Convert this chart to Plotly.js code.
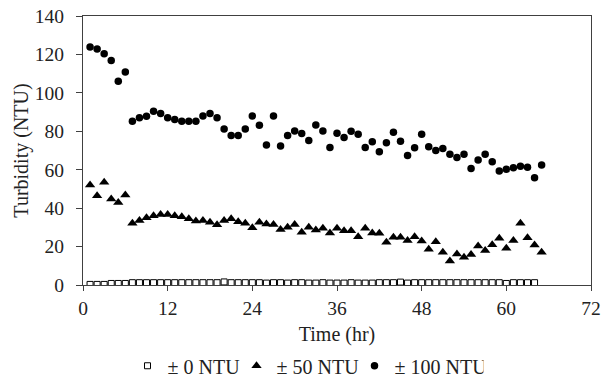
<!DOCTYPE html>
<html><head><meta charset="utf-8">
<script src="https://cdn.plot.ly/plotly-3.0.1.min.js"></script>
<style>html,body{margin:0;padding:0;background:#fff}#c{width:611px;height:381px}</style>
</head><body><div id="c"></div>
<script>
const hours = [1,2,3,4,5,6,7,8,9,10,11,12,13,14,15,16,17,18,19,20,21,22,23,24,25,26,27,28,29,30,31,32,33,34,35,36,37,38,39,40,41,42,43,44,45,46,47,48,49,50,51,52,53,54,55,56,57,58,59,60,61,62,63,64,65];
const hours0 = [1,2,3,4,5,6,7,8,9,10,11,12,13,14,15,16,17,18,19,20,21,22,23,24,25,26,27,28,29,30,31,32,33,34,35,36,37,38,39,40,41,42,43,44,45,46,47,48,49,50,51,52,53,54,55,56,57,58,59,60,61,62,63,64];
const ntu0 = [0.3,0.3,0.3,0.8,0.8,0.8,1.2,1.2,1.2,1.2,1.2,1.2,1.2,1.2,1.2,1.2,1.2,1.2,1.2,1.6,1.2,1.2,1.2,1.2,1.2,1.0,1.2,1.2,1.0,1.2,1.2,1.0,1.0,1.2,1.0,1.0,1.0,1.2,1.0,1.0,1.0,1.2,1.2,1.2,1.5,1.0,1.2,1.2,1.2,1.2,1.2,1.2,1.2,1.2,1.2,1.2,1.2,1.2,1.2,0.8,1.2,1.2,1.2,1.2];
const ntu50 = [52.0,46.4,53.5,44.7,43.0,46.9,32.2,33.6,35.0,36.0,36.7,36.7,36.0,35.5,34.5,33.3,33.6,32.7,31.3,33.6,34.5,32.9,32.2,29.8,32.7,31.7,31.5,28.9,30.1,31.5,27.4,30.1,28.6,29.5,27.0,29.5,28.2,28.2,25.1,29.5,27.0,26.9,22.2,24.8,24.8,23.2,25.1,22.9,18.6,22.5,17.0,12.5,16.1,14.4,15.9,20.3,18.0,20.9,24.3,19.1,23.2,32.2,24.6,20.8,17.0];
const ntu100 = [123.9,122.8,120.4,116.9,106.0,110.9,85.2,87.0,87.8,90.4,89.2,87.0,86.1,85.2,85.2,85.2,88.0,89.2,87.0,81.2,77.8,77.8,81.2,88.0,83.2,72.9,88.0,72.4,77.8,80.2,78.8,75.2,83.3,80.2,71.6,79.0,76.8,80.0,78.5,71.6,74.5,69.3,74.0,79.5,74.8,67.4,71.4,78.5,71.9,70.0,71.0,68.1,66.4,68.1,60.6,65.1,68.1,64.1,59.3,60.3,61.0,61.8,61.3,55.8,62.5];
const seriesNames = ['\u00b1 0 NTU','\u00b1 50 NTU','\u00b1 100 NTU'];
const xTicks = [0,12,24,36,48,60,72];
const yTicks = [0,20,40,60,80,100,120,140];

const fam = 'Liberation Serif, Times New Roman, DejaVu Serif, serif';
const tickFont = {family:fam, color:'#222', size:19.5};
const titleFont = {family:fam, color:'#222', size:20};
const data = [
  {x:hours0, y:ntu0, name:seriesNames[0], type:'scatter', mode:'markers', legendwidth:64,
   marker:{symbol:'square-open', size:6, color:'#000', line:{width:1, color:'#000'}}},
  {x:hours, y:ntu50, name:seriesNames[1], type:'scatter', mode:'markers', legendwidth:73,
   marker:{symbol:'triangle-up', size:9, color:'#000'}},
  {x:hours, y:ntu100, name:seriesNames[2], type:'scatter', mode:'markers', legendwidth:84,
   marker:{symbol:'circle', size:7.5, color:'#000'}}
];
const layout = {
  width:611, height:381,
  margin:{l:83, r:20, t:16, b:96, autoexpand:false},
  paper_bgcolor:'#fff', plot_bgcolor:'#fff',
  font:tickFont, showlegend:true,
  xaxis:{range:[0,72], tickvals:xTicks, ticktext:xTicks.map(String), showgrid:false, zeroline:false,
    showline:true, mirror:true, linecolor:'#404040', linewidth:1.2, ticks:'outside', ticklen:5, tickcolor:'#404040',
    tickfont:tickFont, ticklabelstandoff:0, automargin:true,
    title:{text:'Time (hr)', font:titleFont, standoff:14}},
  yaxis:{range:[0,140], tickvals:yTicks, ticktext:yTicks.map(String), showgrid:false, zeroline:false,
    showline:true, mirror:true, linecolor:'#404040', linewidth:1.2, ticks:'outside', ticklen:6, tickcolor:'#404040',
    tickfont:tickFont, ticklabelstandoff:8, automargin:true,
    title:{text:'Turbidity (NTU)', font:titleFont, standoff:0}},
  legend:{orientation:'h', xref:'container', yref:'container', x:0.5, xanchor:'center', y:0.04, yanchor:'middle',
    font:{family:fam, size:20, color:'#222'}, itemwidth:30, tracegroupgap:0}
};
Plotly.newPlot('c', data, layout, {displayModeBar:false, staticPlot:true});
</script></body></html>
